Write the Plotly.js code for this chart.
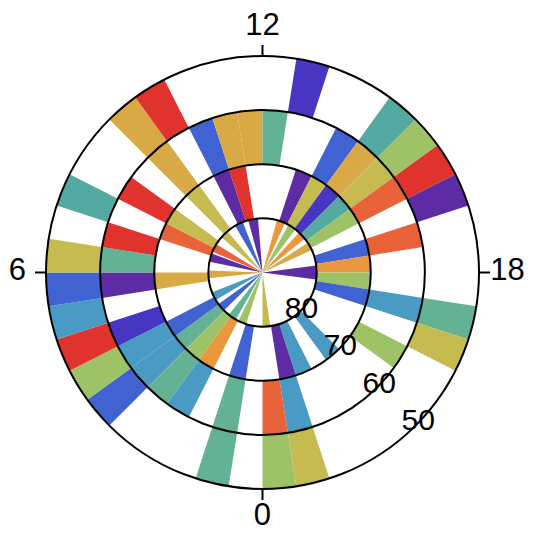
<!DOCTYPE html>
<html>
<head>
<meta charset="utf-8">
<script src="https://cdn.plot.ly/plotly-3.0.1.min.js"></script>
<style>
html,body{margin:0;padding:0;background:#ffffff;}
#chart{width:540px;height:537px;}
</style>
</head>
<body>
<div id="chart"></div>
<script>
// ---------- DATA ----------
// Elevation bands (degrees), inner ring to outer ring
const ringTop    = [90, 80, 70, 60];
const ringBottom = [80, 70, 60, 50];

// Angular ticks (hours of a 24 h clock)
const hourTicks    = [0, 6, 12, 18];
const hourTickText = ['0', '6', '12', '18'];

// Radial ticks (elevation)
const elevTicks    = [80, 70, 60, 50];
const elevTickText = ['80', '70', '60', '50'];

// Colour keys
const P = 'P', V = 'V', B = 'B', S = 'S', T = 'T', G = 'G',
      L = 'L', Y = 'Y', O = 'O', A = 'A', R = 'R', D = 'D', _ = null;

// Inner ring (90-80): wedge centres (hours), widths (hours), colours
const ringA_hours = [23.73, 1.47, 2.27, 3.33, 4.27, 5.87, 7.07, 7.8, 9.0, 10.27, 11.33, 13.33, 14.2, 15.13, 16.07, 18.0];
const ringA_width = [0.55, 0.6, 0.6, 0.6, 0.6, 0.55, 0.6, 0.6, 0.6, 0.6, 0.7, 0.6, 0.6, 0.6, 0.6, 1.0];
const ringA_color = [Y, L, G, B, S, O, P, R, Y, B, P, A, L, A, O, P];

// Outer rings: 40 sectors of 0.6 h each, starting at 0 h
const sectorHours = 0.6;
const ringB_color = [_, B, _, A, L, G, B, _, _, O,
                     _, _, R, Y, _, Y, _, P, D, _,
                     _, _, P, Y, V, T, L, _, B, A,
                     L, B, _, _, _, S, _, S, P, _];
const ringC_color = [_, G, _, S, G, S, S, V, _, P,
                     G, D, _, D, _, O, _, B, O, O,
                     G, _, _, B, O, Y, R, _, R, _,
                     _, S, _, L, _, _, _, _, S, R];
const ringD_color = [_, G, _, _, _, B, L, D, S, B,
                     Y, _, T, _, _, O, D, _, _, _,
                     _, V, _, _, T, L, D, P, _, _,
                     _, G, Y, _, _, _, _, _, Y, L];

// ---------- STYLE ----------
const palette = {
  P: '#5d2ca4', V: '#4636c2', B: '#4163d1', S: '#4a9bc3', T: '#55a9a3',
  G: '#62b293', L: '#9ec266', Y: '#c6bb50', O: '#d9a946', A: '#ea973d',
  R: '#e8623a', D: '#e1332e'
};
const FONT = 'Liberation Sans, Arial, Helvetica, sans-serif';

// radial coordinate = zenith distance (90 - elevation)
const zen = e => 90 - e;
const radialRange = [0, zen(ringBottom[3])];
const hourLabelR = radialRange[1] * 1.132;   // label ring just outside the tick marks
const elevLabelAngle = 314;                  // direction of the elevation labels (deg)

// plot geometry (pixels)
const W = 540, H = 537, CX = 262.5, CY = 264.5, RAD = 216.5;
const labelScale = 1.2;                       // label subplot reaches 20 % further out
function domainFor(rad) {
  return {x: [(CX - rad) / W, (CX + rad) / W], y: [(CY - rad) / H, (CY + rad) / H]};
}

function ringTrace(idx, hours, widths, colors) {
  const th = [], w = [], c = [], r = [], base = [];
  hours.forEach((h, i) => {
    if (!colors[i]) return;
    th.push(h * 15);
    w.push(widths[i] * 15);
    c.push(palette[colors[i]]);
    r.push(ringTop[idx] - ringBottom[idx]);
    base.push(zen(ringTop[idx]));
  });
  return {
    type: 'barpolar', subplot: 'polar',
    theta: th, width: w, r: r, base: base,
    marker: {color: c, line: {width: 0}},
    hoverinfo: 'skip', showlegend: false
  };
}

function sectorTrace(idx, colors) {
  const hours = colors.map((_c, k) => (k + 0.5) * sectorHours);
  const widths = colors.map(() => sectorHours);
  return ringTrace(idx, hours, widths, colors);
}

const traces = [
  ringTrace(0, ringA_hours, ringA_width, ringA_color),
  sectorTrace(1, ringB_color),
  sectorTrace(2, ringC_color),
  sectorTrace(3, ringD_color),
  {
    type: 'scatterpolar', subplot: 'polar2', mode: 'text',
    r: elevTicks.map(zen),
    theta: elevTicks.map(() => elevLabelAngle),
    text: elevTickText,
    textposition: 'middle center',
    textfont: {family: FONT, size: 30, color: '#000000'},
    hoverinfo: 'skip', showlegend: false, cliponaxis: false
  },
  {
    type: 'scatterpolar', subplot: 'polar3', mode: 'text',
    r: hourTicks.map(() => hourLabelR),
    theta: hourTicks.map(h => h * 15),
    text: hourTickText,
    textposition: 'middle center',
    textfont: {family: FONT, size: 31, color: '#000000'},
    hoverinfo: 'skip', showlegend: false, cliponaxis: false
  }
];

const hiddenAngular = {rotation: 270, direction: 'clockwise', showgrid: false, showline: false,
                       ticks: '', showticklabels: false};
const hiddenRadial = {showgrid: false, showline: false, ticks: '', showticklabels: false};

const layout = {
  width: W, height: H,
  margin: {l: 0, r: 0, t: 0, b: 0},
  paper_bgcolor: '#ffffff',
  showlegend: false,
  font: {family: FONT, color: '#000000'},
  polar: {
    domain: domainFor(RAD),
    bgcolor: '#ffffff',
    angularaxis: hiddenAngular,
    radialaxis: Object.assign({range: radialRange}, hiddenRadial)
  },
  polar2: {
    domain: domainFor(RAD),
    bgcolor: 'rgba(0,0,0,0)',
    angularaxis: {
      rotation: 270, direction: 'clockwise', layer: 'below traces',
      showgrid: false, showline: true, linecolor: '#000000', linewidth: 2,
      ticks: 'outside', ticklen: 10, tickwidth: 2, tickcolor: '#000000',
      tickmode: 'array', tickvals: hourTicks.map(h => h * 15), ticktext: hourTickText,
      showticklabels: false
    },
    radialaxis: {
      range: radialRange, layer: 'below traces',
      tickmode: 'array', tickvals: elevTicks.map(zen), ticktext: elevTickText,
      showticklabels: false, ticks: '', showline: false,
      showgrid: true, gridcolor: '#000000', gridwidth: 2
    }
  },
  polar3: {
    domain: domainFor(RAD * labelScale),
    bgcolor: 'rgba(0,0,0,0)',
    angularaxis: hiddenAngular,
    radialaxis: Object.assign({range: [0, radialRange[1] * labelScale]}, hiddenRadial)
  }
};

Plotly.newPlot('chart', traces, layout, {staticPlot: true, displayModeBar: false});
</script>
</body>
</html>
